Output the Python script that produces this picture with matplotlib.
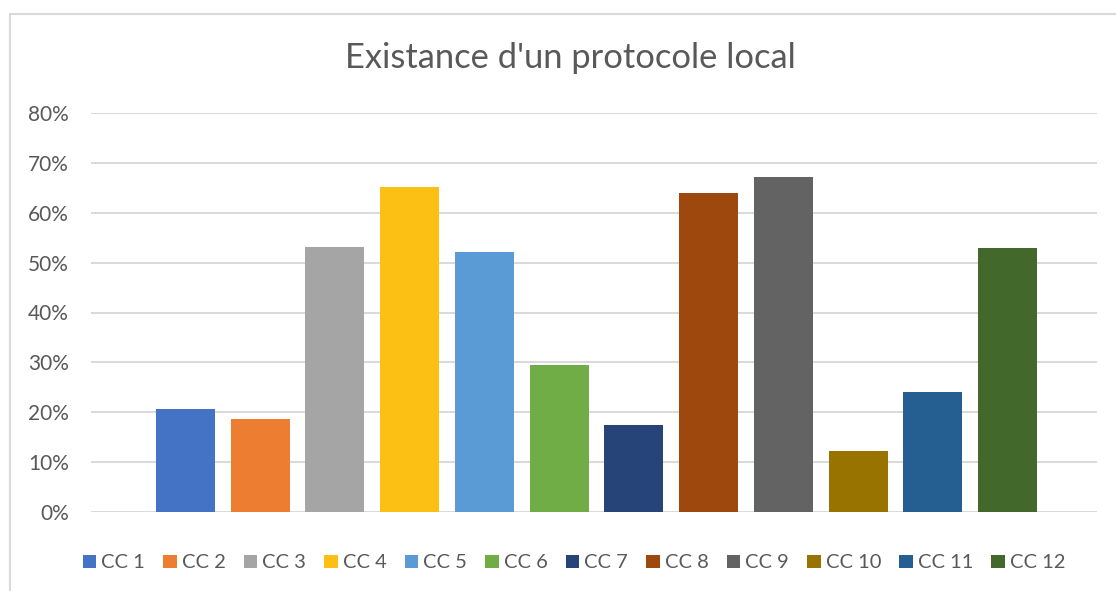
import matplotlib.pyplot as plt
import matplotlib.patches as patches
import numpy as np

plt.rcParams['font.family'] = ['Lato', 'DejaVu Sans']

labels = ['CC 1', 'CC 2', 'CC 3', 'CC 4', 'CC 5', 'CC 6',
          'CC 7', 'CC 8', 'CC 9', 'CC 10', 'CC 11', 'CC 12']
values = [20.6, 18.6, 53.2, 65.2, 52.2, 29.4,
          17.4, 64.0, 67.2, 12.2, 24.0, 53.0]
colors = ['#4472C4', '#ED7D31', '#A5A5A5', '#FBC013', '#5B9BD5', '#70AD47',
          '#264478', '#9E480E', '#636363', '#997300', '#255E91', '#43682B']
yticks = [0, 10, 20, 30, 40, 50, 60, 70, 80]

txt = '#595959'
grid = '#D9D9D9'

fig = plt.figure(figsize=(11.16, 5.91), dpi=100)
ax = fig.add_axes([91/1116, 1-512/591, (1097-91)/1116, (512-113)/591])

# chart border
fig.patches.append(patches.Rectangle((10/1116, -0.05), 1.2, 1-14/591+0.05,
                   transform=fig.transFigure, fill=False, edgecolor=grid,
                   linewidth=1.5))

x = np.arange(len(values))
for i in range(len(values)):
    ax.bar(x[i], values[i], width=0.79, color=colors[i], label=labels[i], zorder=3)

ax.set_xlim(-1.263, 12.197)
ax.set_ylim(0, 80)
ax.set_yticks(yticks)
ax.set_yticklabels(['%d%%' % t for t in yticks], color=txt, fontsize=15)
ax.set_xticks([])
ax.tick_params(axis='y', length=0, pad=16)
ax.yaxis.grid(True, color=grid, linewidth=1.4, zorder=0)
for s in ax.spines.values():
    s.set_visible(False)

fig.text(570/1116, 1-58/591, "Existance d'un protocole local", ha='center',
         va='center', fontsize=24.8, color=txt)

fig.legend(loc='center', bbox_to_anchor=(574/1116, 1-563/591), ncol=12,
           frameon=False, fontsize=14.5, labelcolor=txt, handlelength=0.67,
           handleheight=0.67, handletextpad=0.25, columnspacing=0.9,
           borderpad=0, borderaxespad=0)

fig.savefig('out.png', dpi=100)
